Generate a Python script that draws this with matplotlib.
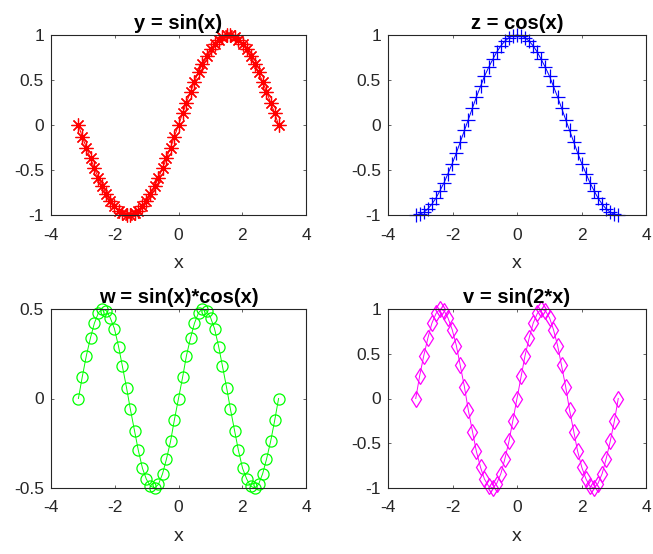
import matplotlib
matplotlib.use("Agg")
import matplotlib.pyplot as plt

plt.rcParams['font.family'] = ['Liberation Sans', 'DejaVu Sans']
plt.rcParams['axes.unicode_minus'] = False

# x-Werte von -pi bis pi
x = [-3.14, -3.02, -2.89, -2.76, -2.64, -2.51, -2.39, -2.26, -2.14, -2.01,
     -1.88, -1.76, -1.63, -1.51, -1.38, -1.26, -1.13, -1.01, -0.88, -0.75,
     -0.63, -0.50, -0.38, -0.25, -0.13, 0.00,
     0.13, 0.25, 0.38, 0.50, 0.63, 0.75, 0.88, 1.01, 1.13, 1.26,
     1.38, 1.51, 1.63, 1.76, 1.88, 2.01, 2.14, 2.26, 2.39, 2.51,
     2.64, 2.76, 2.89, 3.02, 3.14]

y = [0.00, -0.13, -0.25, -0.37, -0.48, -0.59, -0.68, -0.77, -0.84, -0.90,
     -0.95, -0.98, -1.00, -1.00, -0.98, -0.95, -0.90, -0.84, -0.77, -0.68,
     -0.59, -0.48, -0.37, -0.25, -0.13, 0.00,
     0.13, 0.25, 0.37, 0.48, 0.59, 0.68, 0.77, 0.84, 0.90, 0.95,
     0.98, 1.00, 1.00, 0.98, 0.95, 0.90, 0.84, 0.77, 0.68, 0.59,
     0.48, 0.37, 0.25, 0.13, 0.00]

z = [-1.00, -0.99, -0.97, -0.93, -0.88, -0.81, -0.73, -0.64, -0.54, -0.43,
     -0.31, -0.19, -0.06, 0.06, 0.19, 0.31, 0.43, 0.54, 0.64, 0.73,
     0.81, 0.88, 0.93, 0.97, 0.99, 1.00,
     0.99, 0.97, 0.93, 0.88, 0.81, 0.73, 0.64, 0.54, 0.43, 0.31,
     0.19, 0.06, -0.06, -0.19, -0.31, -0.43, -0.54, -0.64, -0.73, -0.81,
     -0.88, -0.93, -0.97, -0.99, -1.00]

w = [0.00, 0.12, 0.24, 0.34, 0.42, 0.48, 0.50, 0.49, 0.45, 0.39,
     0.29, 0.18, 0.06, -0.06, -0.18, -0.29, -0.39, -0.45, -0.49, -0.50,
     -0.48, -0.42, -0.34, -0.24, -0.12, 0.00,
     0.12, 0.24, 0.34, 0.42, 0.48, 0.50, 0.49, 0.45, 0.39, 0.29,
     0.18, 0.06, -0.06, -0.18, -0.29, -0.39, -0.45, -0.49, -0.50, -0.48,
     -0.42, -0.34, -0.24, -0.12, 0.00]

v = [0.00, 0.25, 0.48, 0.68, 0.84, 0.95, 1.00, 0.98, 0.90, 0.77,
     0.59, 0.37, 0.13, -0.13, -0.37, -0.59, -0.77, -0.90, -0.98, -1.00,
     -0.95, -0.84, -0.68, -0.48, -0.25, 0.00,
     0.25, 0.48, 0.68, 0.84, 0.95, 1.00, 0.98, 0.90, 0.77, 0.59,
     0.37, 0.13, -0.13, -0.37, -0.59, -0.77, -0.90, -0.98, -1.00, -0.95,
     -0.84, -0.68, -0.48, -0.25, 0.00]

titel = ["y = sin(x)", "z = cos(x)", "w = sin(x)*cos(x)", "v = sin(2*x)"]
xticks = [-4, -2, 0, 2, 4]
yticks_1 = [-1, -0.5, 0, 0.5, 1]
yticks_w = [-0.5, 0, 0.5]

fig = plt.figure(figsize=(6.53, 5.54), dpi=100)

W, H = 653, 554
pos = [(51, 35, 306, 215), (388, 35, 646, 215),
       (51, 309, 306, 488), (388, 309, 646, 488)]

# MATLAB-Sternchen: + und x uebereinander
stern = (8, 2, 0)

daten = [(y, 'r', stern, 10, yticks_1),
         (z, 'b', '+', 10, yticks_1),
         (w, '#00ff00', 'o', 8, yticks_w),
         (v, '#ff00ff', 'd', 8, yticks_1)]

grau = (0.15, 0.15, 0.15)

for i in range(4):
    l, t, r, b = pos[i]
    ax = fig.add_axes([l / W, 1 - b / H, (r - l) / W, (b - t) / H])
    werte, farbe, marker, ms, yt = daten[i]
    ax.plot(x, werte, color=farbe, marker=marker, markersize=ms,
            markerfacecolor='none', markeredgecolor=farbe,
            linewidth=0.7, markeredgewidth=0.9, clip_on=False)
    ax.set_xlim(-4, 4)
    ax.set_ylim(min(yt), max(yt))
    ax.set_xticks(xticks)
    ax.set_yticks(yt)
    ax.set_yticklabels([('%g' % t) for t in yt])
    ax.tick_params(direction='in', length=2.5, width=0.5, top=True, right=True,
                   labelsize=12.5, colors=grau)
    ax.tick_params(axis='x', pad=9)
    ax.tick_params(axis='y', pad=5)
    for s in ax.spines.values():
        s.set_color(grau)
        s.set_linewidth(0.8)
    ax.set_xlabel("x", fontsize=14, color=grau, labelpad=9)
    ax.set_title(titel[i], fontsize=14.5, fontweight='bold', pad=4)

fig.savefig("out.png", dpi=100)
